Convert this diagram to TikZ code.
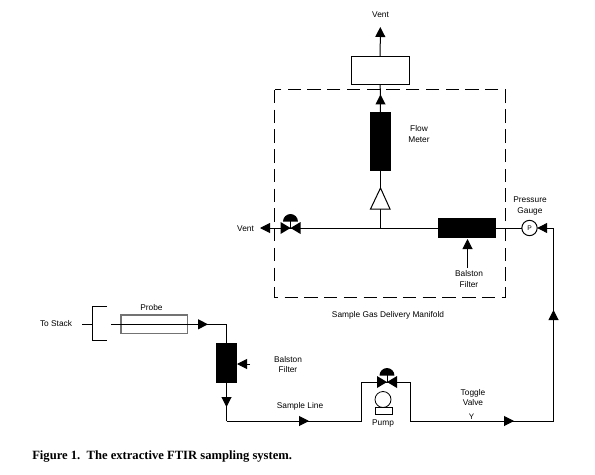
\documentclass[tikz,border=0pt]{standalone}
\usepackage{fontspec}
\setmainfont{Liberation Sans}
\newfontfamily\capfont{Liberation Serif}
\usetikzlibrary{arrows.meta}
\tikzset{
  pipe/.style={line width=0.75pt},
  flowarrow/.style={pipe,-{Triangle[length=7.5pt,width=7.5pt]}},
  blk/.style={draw=black,fill=black,inner sep=0pt,outer sep=0pt},
  openbox/.style={draw=black,fill=white,line width=0.75pt,inner sep=0pt,outer sep=0pt},
  lbl/.style={font=\fontsize{6.25}{8}\selectfont,align=center,inner sep=0pt},
  valve/.pic={
    \fill (-10,-6) -- (10,6) -- (10,-6) -- (-10,6) -- cycle;
    \draw[line width=0.75pt] (0,0) -- (0,-7);
    \fill (-7.5,-6.5) arc[start angle=180,end angle=0,radius=5.6pt] -- cycle;
  }
}
\begin{document}
\begin{tikzpicture}[x=0.75pt,y=-0.75pt]
\useasboundingbox (0,0) rectangle (595,474);
% manifold
\draw[line width=0.75pt,dash pattern=on 10pt off 4.8pt] (274.5,90) rectangle (505,297);
% nodes
\node[openbox,minimum width=43.2pt,minimum height=21.5pt] (top) at (380.2,70.4) {};
\node[blk,minimum width=15pt,minimum height=43.5pt] (meter) at (380.5,141.5) {};
\node[blk,minimum width=43pt,minimum height=14.5pt] (balston) at (467,228) {};
\node[draw,circle,line width=0.75pt,fill=white,minimum size=11.5pt,inner sep=0pt,outer sep=0pt,font=\fontsize{5}{6}\selectfont] (gauge) at (529.5,228) {P};
\node[draw=black!55,fill=white,line width=1pt,inner sep=0pt,outer sep=0pt,minimum width=50pt,minimum height=14pt] (probe) at (154.3,324.3) {};
\node[blk,minimum width=15pt,minimum height=29.5pt] (filter) at (226.5,363) {};
\node[draw,line width=0.6pt,fill=white,circle,minimum size=12pt,inner sep=0pt,outer sep=0pt] (pumpc) at (383,399.5) {};
\node[draw,line width=0.6pt,fill=white,inner sep=0pt,outer sep=0pt,minimum width=12.75pt,minimum height=5.25pt] (pumpb) at (383.5,410.5) {};
% coordinates
\coordinate (ventT) at (380.3,27);
\coordinate (ventL) at (260,228);
\coordinate (junction) at (380.5,228);
\coordinate (valveA) at (290.5,228);
\coordinate (tri) at (380.5,188);
\coordinate (gaugeC) at (553.5,228);
\coordinate (riserTip) at (553.5,310);
\coordinate (btmR) at (553.5,421);
\coordinate (togTip) at (514,421);
\coordinate (pumpR) at (410,382);
\coordinate (pumpRb) at (410,421);
\coordinate (pumpL) at (361.5,382);
\coordinate (pumpLb) at (361.5,421);
\coordinate (valveB) at (387,382);
\coordinate (sampleTip) at (309,421);
\coordinate (corner) at (226.5,421);
\coordinate (filtTip) at (226.5,407);
\coordinate (probeTip) at (208,324.3);
\coordinate (corner2) at (226.5,324.3);
\coordinate (probeS) at (111,324.3);
\coordinate (brT) at (107,306.5);
\coordinate (brB) at (107,340);
\coordinate (brS) at (82,324.3);
\coordinate (brM) at (92,324.3);
\coordinate (balLblTop) at (467.5,268);
\coordinate (balTip) at (467.5,239);
\coordinate (filtLbl) at (250,364);
\coordinate (filtArrow) at (237,364);
\coordinate (meterTip) at (380.5,94.5);
% connectors
\draw[flowarrow] (top.north) -- (ventT);
\draw[pipe] (meter.north) -- (top.south);
\draw[flowarrow] (meter.north) -- (meterTip);
\draw[pipe] (junction) -- (tri);
\draw[pipe] (tri) -- (meter.south);
\draw[pipe] (valveA) -- (balston.west);
\draw[pipe] (balston.east) -- (gauge.west);
\draw[flowarrow] (valveA) -- (ventL);
\draw[flowarrow] (gaugeC) -- (gauge.east);
\draw[flowarrow] (balLblTop) -- (balTip);
\draw[pipe] (btmR) -- (gaugeC);
\draw[flowarrow] (btmR) -- (riserTip);
\draw[pipe] (pumpRb) -- (btmR);
\draw[flowarrow] (pumpRb) -- (togTip);
\draw[pipe] (pumpLb) -- (pumpL) -- (pumpR) -- (pumpRb);
\draw[pipe] (corner) -- (pumpLb);
\draw[flowarrow] (corner) -- (sampleTip);
\draw[pipe] (filter.south) -- (corner);
\draw[flowarrow] (filter.south) -- (filtTip);
\draw[pipe] (probe.east) -- (corner2) -- (filter.north);
\draw[flowarrow] (probe.center) -- (probeTip);
\draw[pipe] (probeS) -- (probe.east);
\draw[pipe] (brT) -- (brT -| brM) -- (brB -| brM) -- (brB);
\draw[pipe] (brS) -- (brM);
\draw[flowarrow] (filtLbl) -- (filtArrow);
% open triangle
\draw[line width=0.75pt,fill=white] (tri) -- (390,209) -- (370.5,209) -- cycle;
% valves
\pic at (valveA) {valve};
\pic at (valveB) {valve};
% toggle mark
\node[lbl,font=\fontsize{6}{6}\selectfont] (togmark) at (471.5,417) {Y};
% labels
\node[lbl] (l1) at (380.5,15) {Vent};
\node[lbl] (l2) at (419,134) {Flow\\Meter};
\node[lbl] (l3) at (245.5,228.5) {Vent};
\node[lbl] (l4) at (530,206) {Pressure\\Gauge};
\node[lbl] (l5) at (469,279) {Balston\\Filter};
\node[lbl] (l6) at (388,315) {Sample Gas Delivery Manifold};
\node[lbl] (l7) at (56,324) {To Stack};
\node[lbl] (l8) at (151.5,308) {Probe};
\node[lbl] (l9) at (288,364.5) {Balston\\Filter};
\node[lbl] (l10) at (300,406) {Sample Line};
\node[lbl] (l11) at (383,423) {Pump};
\node[lbl] (l12) at (473,397.5) {Toggle\\Valve};
\node[inner sep=0pt,anchor=west,font=\capfont\bfseries\fontsize{9.45}{11}\selectfont] (cap) at (32,457) {Figure 1.\ \ The extractive FTIR sampling system.};
\end{tikzpicture}
\end{document}
